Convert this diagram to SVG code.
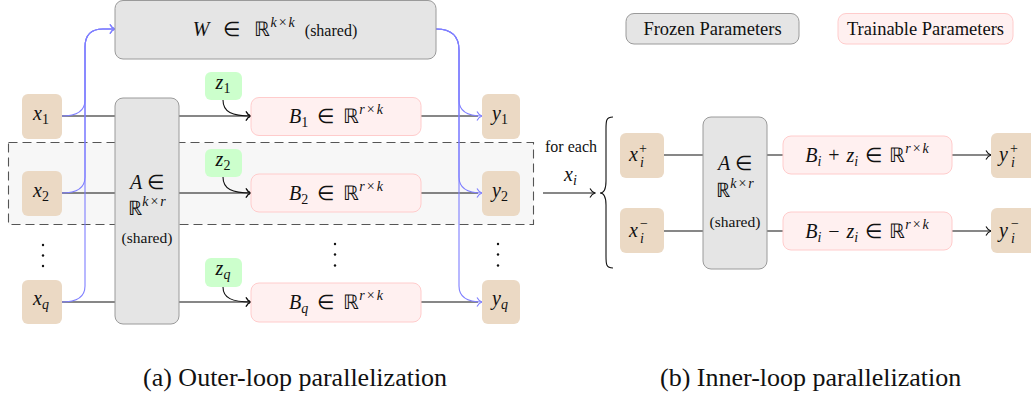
<svg xmlns="http://www.w3.org/2000/svg" width="1031" height="400" viewBox="0 0 1031 400">
  <defs>
    <marker id="arrK" viewBox="-7 -6 8 12" refX="0" refY="0" markerWidth="8" markerHeight="12" markerUnits="userSpaceOnUse" orient="auto">
      <path d="M-5,-4.5 C-3.5,-1.5 -1,-0.3 0,0 C-1,0.3 -3.5,1.5 -5,4.5" fill="none" stroke="#111" stroke-width="1.1"/>
    </marker>
    <marker id="arrB" viewBox="-7 -6 8 12" refX="0" refY="0" markerWidth="8" markerHeight="12" markerUnits="userSpaceOnUse" orient="auto">
      <path d="M-5,-4.5 C-3.5,-1.5 -1,-0.3 0,0 C-1,0.3 -3.5,1.5 -5,4.5" fill="none" stroke="#7f7fff" stroke-width="1.1"/>
    </marker>
  </defs>

  <rect width="1031" height="400" fill="#fff"/>

  <!-- highlighted row (one parallel worker) -->
  <rect id="row-highlight" x="8.5" y="142.5" width="525" height="82" fill="#f7f7f7" stroke="#555" stroke-width="1.1" stroke-dasharray="9 5"/>

  <g id="connectors" fill="none" stroke-width="1.1">
    <!-- (a) black data path per row -->
    <g stroke="#111">
      <path d="M62,116 H116 M178,116 H251" marker-end="url(#arrK)"/>
      <path d="M421,116 H478"/>
      <path d="M223,100 C223,112 232,116 251,116" marker-end="url(#arrK)"/>
      <path d="M62,193 H116 M178,193 H251" marker-end="url(#arrK)"/>
      <path d="M421,193 H478"/>
      <path d="M223,177 C223,189 232,193 251,193" marker-end="url(#arrK)"/>
      <path d="M62,302 H116 M178,302 H251" marker-end="url(#arrK)"/>
      <path d="M421,302 H478"/>
      <path d="M223,287 C223,298 232,302 251,302" marker-end="url(#arrK)"/>
    </g>
    <!-- (a) blue shared-W path -->
    <g stroke="#7f7fff">
      <path d="M62,116 C78,116 85,110 85,100 V47 C85,35 91,29 103,29 H115" marker-end="url(#arrB)"/>
      <path d="M62,193 C78,193 85,187 85,177 V47 C85,35 91,29 103,29 H115" marker-end="url(#arrB)"/>
      <path d="M62,302 C78,302 85,296 85,286 V47 C85,35 91,29 103,29 H115" marker-end="url(#arrB)"/>
      <path d="M436,29 C452,29 459,36 459,50 V100 C459,110 466,116 482,116" marker-end="url(#arrB)"/>
      <path d="M436,29 C452,29 459,36 459,50 V177 C459,187 466,193 482,193" marker-end="url(#arrB)"/>
      <path d="M436,29 C452,29 459,36 459,50 V286 C459,296 466,302 482,302" marker-end="url(#arrB)"/>
    </g>
    <!-- (b) fan-out -->
    <g stroke="#111">
      <path d="M543,193 H595" marker-end="url(#arrK)"/>
      <path d="M613,117 C606,117 606,121 606,129 V181 C606,189 604,193 600,193 C604,193 606,197 606,205 V256 C606,264 606,268 613,268"/>
      <path d="M664,155 H704 M766,155 H783"/>
      <path d="M952,155 H991" marker-end="url(#arrK)"/>
      <path d="M664,231 H704 M766,231 H783"/>
      <path d="M952,231 H991" marker-end="url(#arrK)"/>
    </g>
  </g>

  <!-- legend -->
  <g id="legend-frozen">
    <rect x="626" y="13.5" width="173" height="30.5" rx="8" fill="#e5e5e5" stroke="#9a9a9a"/>
    <text font-family="Liberation Serif" font-size="18.5" fill="#111" x="712.5" y="35" text-anchor="middle">Frozen Parameters</text>
  </g>
  <g id="legend-trainable">
    <rect x="838" y="13.5" width="175" height="30.5" rx="8" fill="#fff0f0" stroke="#ffcccc"/>
    <text font-family="Liberation Serif" font-size="18.5" fill="#111" x="925.5" y="35" text-anchor="middle">Trainable Parameters</text>
  </g>

  <!-- (a) outer-loop nodes -->
  <g id="W">
    <rect x="115" y="0.5" width="321" height="58.5" rx="8" fill="#e5e5e5" stroke="#9a9a9a"/>
    <text font-family="Liberation Serif" font-size="20" font-style="italic" fill="#111" x="275" y="36" text-anchor="middle">W<tspan font-style="normal" dx="14">∈</tspan><tspan font-style="normal" dx="14">ℝ</tspan><tspan font-size="14" dy="-9">k</tspan><tspan font-size="14" font-style="normal" dx="2">×</tspan><tspan font-size="14" dx="2">k</tspan><tspan font-size="16" font-style="normal" dx="10" dy="9">(shared)</tspan></text>
  </g>
  <g id="A">
    <rect x="115" y="98" width="64" height="226" rx="8" fill="#e5e5e5" stroke="#9a9a9a"/>
    <text font-family="Liberation Serif" font-size="20" font-style="italic" fill="#111" x="147" y="189" text-anchor="middle">A <tspan font-style="normal">∈</tspan></text>
    <text font-family="Liberation Serif" font-size="20" fill="#111" x="147" y="215" text-anchor="middle">ℝ<tspan font-size="14" font-style="italic" dy="-9">k</tspan><tspan font-size="14" dx="2">×</tspan><tspan font-size="14" font-style="italic" dx="2">r</tspan></text>
    <text font-family="Liberation Serif" font-size="15.5" fill="#111" x="147" y="243" text-anchor="middle">(shared)</text>
  </g>

  <g id="x1"><rect x="22" y="94" width="40" height="45" rx="6" fill="#ebd9c4"/>
    <text font-family="Liberation Serif" font-size="20" font-style="italic" fill="#111" x="41" y="120" text-anchor="middle">x<tspan font-size="14" font-style="normal" dy="4">1</tspan></text></g>
  <g id="x2"><rect x="22" y="171" width="40" height="45" rx="6" fill="#ebd9c4"/>
    <text font-family="Liberation Serif" font-size="20" font-style="italic" fill="#111" x="41" y="197" text-anchor="middle">x<tspan font-size="14" font-style="normal" dy="4">2</tspan></text></g>
  <g id="xq"><rect x="22" y="280" width="40" height="44" rx="6" fill="#ebd9c4"/>
    <text font-family="Liberation Serif" font-size="20" font-style="italic" fill="#111" x="41" y="305" text-anchor="middle">x<tspan font-size="14" dy="4">q</tspan></text></g>

  <g id="z1"><rect x="205" y="72" width="37" height="28" rx="6" fill="#ccffcc"/>
    <text font-family="Liberation Serif" font-size="20" font-style="italic" fill="#111" x="223" y="89" text-anchor="middle">z<tspan font-size="14" font-style="normal" dy="4">1</tspan></text></g>
  <g id="z2"><rect x="205" y="149" width="37" height="28" rx="6" fill="#ccffcc"/>
    <text font-family="Liberation Serif" font-size="20" font-style="italic" fill="#111" x="223" y="166" text-anchor="middle">z<tspan font-size="14" font-style="normal" dy="4">2</tspan></text></g>
  <g id="zq"><rect x="205" y="258" width="37" height="29" rx="6" fill="#ccffcc"/>
    <text font-family="Liberation Serif" font-size="20" font-style="italic" fill="#111" x="223" y="275" text-anchor="middle">z<tspan font-size="14" dy="4">q</tspan></text></g>

  <g id="B1"><rect x="251" y="97.5" width="170" height="38" rx="8" fill="#fff0f0" stroke="#ffcccc"/>
    <text font-family="Liberation Serif" font-size="20" font-style="italic" fill="#111" x="336" y="123" text-anchor="middle">B<tspan font-size="14" font-style="normal" dy="4">1</tspan><tspan font-style="normal" dx="9" dy="-4">∈</tspan><tspan font-style="normal" dx="9">ℝ</tspan><tspan font-size="14" dy="-9">r</tspan><tspan font-size="14" font-style="normal" dx="2">×</tspan><tspan font-size="14" dx="2">k</tspan></text></g>
  <g id="B2"><rect x="251" y="174" width="170" height="38" rx="8" fill="#fff0f0" stroke="#ffcccc"/>
    <text font-family="Liberation Serif" font-size="20" font-style="italic" fill="#111" x="336" y="200" text-anchor="middle">B<tspan font-size="14" font-style="normal" dy="4">2</tspan><tspan font-style="normal" dx="9" dy="-4">∈</tspan><tspan font-style="normal" dx="9">ℝ</tspan><tspan font-size="14" dy="-9">r</tspan><tspan font-size="14" font-style="normal" dx="2">×</tspan><tspan font-size="14" dx="2">k</tspan></text></g>
  <g id="Bq"><rect x="251" y="283" width="170" height="39" rx="8" fill="#fff0f0" stroke="#ffcccc"/>
    <text font-family="Liberation Serif" font-size="20" font-style="italic" fill="#111" x="336" y="309" text-anchor="middle">B<tspan font-size="14" dy="4">q</tspan><tspan font-style="normal" dx="9" dy="-4">∈</tspan><tspan font-style="normal" dx="9">ℝ</tspan><tspan font-size="14" dy="-9">r</tspan><tspan font-size="14" font-style="normal" dx="2">×</tspan><tspan font-size="14" dx="2">k</tspan></text></g>

  <g id="y1"><rect x="482" y="94" width="38" height="45" rx="6" fill="#ebd9c4"/>
    <text font-family="Liberation Serif" font-size="20" font-style="italic" fill="#111" x="500" y="120" text-anchor="middle">y<tspan font-size="14" font-style="normal" dy="4">1</tspan></text></g>
  <g id="y2"><rect x="482" y="171" width="38" height="45" rx="6" fill="#ebd9c4"/>
    <text font-family="Liberation Serif" font-size="20" font-style="italic" fill="#111" x="500" y="197" text-anchor="middle">y<tspan font-size="14" font-style="normal" dy="4">2</tspan></text></g>
  <g id="yq"><rect x="482" y="280" width="38" height="44" rx="6" fill="#ebd9c4"/>
    <text font-family="Liberation Serif" font-size="20" font-style="italic" fill="#111" x="500" y="305" text-anchor="middle">y<tspan font-size="14" dy="4">q</tspan></text></g>

  <g id="ellipses" fill="#111">
    <circle cx="43" cy="245" r="1.2"/><circle cx="43" cy="255.5" r="1.2"/><circle cx="43" cy="266" r="1.2"/>
    <circle cx="335" cy="244" r="1.2"/><circle cx="335" cy="254.5" r="1.2"/><circle cx="335" cy="265.5" r="1.2"/>
    <circle cx="498" cy="244" r="1.2"/><circle cx="498" cy="254.5" r="1.2"/><circle cx="498" cy="265.5" r="1.2"/>
  </g>

  <!-- (b) inner-loop nodes -->
  <g id="for-each">
    <text font-family="Liberation Serif" font-size="16" fill="#111" x="571" y="152" text-anchor="middle">for each</text>
    <text font-family="Liberation Serif" font-size="20" font-style="italic" fill="#111" x="564" y="181">x<tspan font-size="14" dy="4">i</tspan></text>
  </g>

  <g id="xi-plus"><rect x="620" y="133" width="44" height="45" rx="6" fill="#ebd9c4"/>
    <text font-family="Liberation Serif" font-size="20" font-style="italic" fill="#111"><tspan x="629" y="161">x</tspan><tspan font-size="14" font-style="normal" x="639" y="153">+</tspan><tspan font-size="14" x="640" y="167">i</tspan></text></g>
  <g id="xi-minus"><rect x="620" y="208" width="44" height="45" rx="6" fill="#ebd9c4"/>
    <text font-family="Liberation Serif" font-size="20" font-style="italic" fill="#111"><tspan x="629" y="237">x</tspan><tspan font-size="14" font-style="normal" x="640" y="228">−</tspan><tspan font-size="14" x="640" y="243">i</tspan></text></g>

  <g id="A-inner">
    <rect x="703" y="117" width="64" height="152" rx="8" fill="#e5e5e5" stroke="#9a9a9a"/>
    <text font-family="Liberation Serif" font-size="20" font-style="italic" fill="#111" x="735" y="170" text-anchor="middle">A <tspan font-style="normal">∈</tspan></text>
    <text font-family="Liberation Serif" font-size="20" fill="#111" x="735" y="197" text-anchor="middle">ℝ<tspan font-size="14" font-style="italic" dy="-9">k</tspan><tspan font-size="14" dx="2">×</tspan><tspan font-size="14" font-style="italic" dx="2">r</tspan></text>
    <text font-family="Liberation Serif" font-size="15.5" fill="#111" x="735" y="227" text-anchor="middle">(shared)</text>
  </g>

  <g id="B-plus"><rect x="783" y="136" width="169" height="38" rx="8" fill="#fff0f0" stroke="#ffcccc"/>
    <text font-family="Liberation Serif" font-size="20" font-style="italic" fill="#111" x="867" y="162" text-anchor="middle">B<tspan font-size="14" dy="4">i</tspan><tspan font-style="normal" dx="7" dy="-4">+</tspan><tspan dx="7">z</tspan><tspan font-size="14" dy="4">i</tspan><tspan font-style="normal" dx="7" dy="-4">∈</tspan><tspan font-style="normal" dx="7">ℝ</tspan><tspan font-size="14" dy="-9">r</tspan><tspan font-size="14" font-style="normal" dx="2">×</tspan><tspan font-size="14" dx="2">k</tspan></text></g>
  <g id="B-minus"><rect x="783" y="212" width="169" height="38" rx="8" fill="#fff0f0" stroke="#ffcccc"/>
    <text font-family="Liberation Serif" font-size="20" font-style="italic" fill="#111" x="867" y="238" text-anchor="middle">B<tspan font-size="14" dy="4">i</tspan><tspan font-style="normal" dx="7" dy="-4">−</tspan><tspan dx="7">z</tspan><tspan font-size="14" dy="4">i</tspan><tspan font-style="normal" dx="7" dy="-4">∈</tspan><tspan font-style="normal" dx="7">ℝ</tspan><tspan font-size="14" dy="-9">r</tspan><tspan font-size="14" font-style="normal" dx="2">×</tspan><tspan font-size="14" dx="2">k</tspan></text></g>

  <g id="yi-plus"><rect x="991" y="133" width="46" height="45" rx="6" fill="#ebd9c4"/>
    <text font-family="Liberation Serif" font-size="20" font-style="italic" fill="#111"><tspan x="999" y="161">y</tspan><tspan font-size="14" font-style="normal" x="1010" y="153">+</tspan><tspan font-size="14" x="1011" y="167">i</tspan></text></g>
  <g id="yi-minus"><rect x="991" y="208" width="46" height="45" rx="6" fill="#ebd9c4"/>
    <text font-family="Liberation Serif" font-size="20" font-style="italic" fill="#111"><tspan x="999" y="237">y</tspan><tspan font-size="14" font-style="normal" x="1011" y="228">−</tspan><tspan font-size="14" x="1011" y="243">i</tspan></text></g>

  <!-- captions -->
  <text font-family="Liberation Serif" font-size="26" fill="#111" x="143" y="386">(a) Outer-loop parallelization</text>
  <text font-family="Liberation Serif" font-size="26" fill="#111" x="660" y="386">(b) Inner-loop parallelization</text>
</svg>
